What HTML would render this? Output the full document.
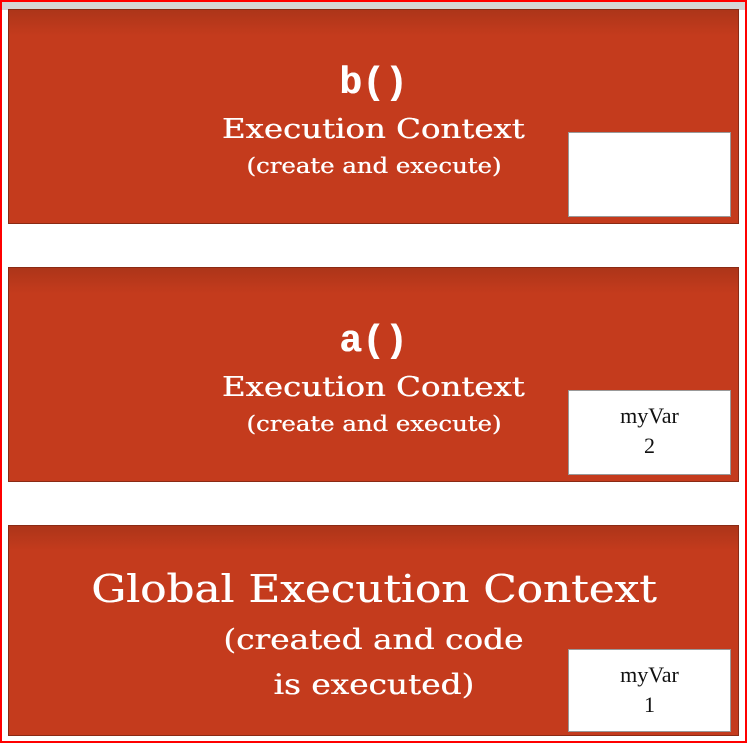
<!DOCTYPE html>
<html><head><meta charset="utf-8"><style>
body{margin:0;width:747px;height:743px;overflow:hidden;background:#fff;position:relative;font-family:"DejaVu Serif","Liberation Serif",serif}
.frame{position:absolute;left:0;top:0;width:743px;height:739px;border:2px solid #f00}
.top{position:absolute;left:2px;top:2px;width:743px;height:8px;background:#d6d6d6}
.box{position:absolute;left:8px;width:731px;background:linear-gradient(#ad3519,#c43b1d 12%,#c43b1d);border:1px solid #8a2a14;box-sizing:border-box}
.t{position:absolute;left:-8px;width:745px;text-align:center;color:#fff;white-space:nowrap;text-shadow:0.4px 0 0 #fff}
.t span{display:inline-block}
.w{position:absolute;left:559px;width:163px;background:#fff;border:1px solid #999;box-sizing:border-box;text-align:center;font-size:22px;line-height:30px;color:#111;font-family:"Liberation Serif",serif}
.mono{font-family:"Liberation Mono",monospace;font-weight:bold}
</style></head><body>
<div class="top"></div>
<div class="box" style="top:9px;height:215px">
 <div class="t mono" style="top:52px;font-size:38px">b()</div>
 <div class="t" style="top:104px;font-size:27px"><span style="transform:scaleX(1.2)">Execution Context</span></div>
 <div class="t" style="top:144px;font-size:21px"><span style="transform:scaleX(1.16)">(create and execute)</span></div>
 <div class="w" style="top:122px;height:85px"></div>
</div>
<div class="box" style="top:267px;height:215px">
 <div class="t mono" style="top:52px;font-size:38px">a()</div>
 <div class="t" style="top:104px;font-size:27px"><span style="transform:scaleX(1.2)">Execution Context</span></div>
 <div class="t" style="top:144px;font-size:21px"><span style="transform:scaleX(1.16)">(create and execute)</span></div>
 <div class="w" style="top:122px;height:85px;padding-top:10px">myVar<br>2</div>
</div>
<div class="box" style="top:525px;height:211px">
 <div class="t" style="top:41px;font-size:38px"><span style="transform:scaleX(1.15)">Global Execution Context</span></div>
 <div class="t" style="top:97px;font-size:28px"><span style="transform:scaleX(1.17)">(created and code</span></div>
 <div class="t" style="top:142px;font-size:28px"><span style="transform:scaleX(1.17)">is executed)</span></div>
 <div class="w" style="top:123px;height:83px;padding-top:10px">myVar<br>1</div>
</div>
<div class="frame"></div>
</body></html>
